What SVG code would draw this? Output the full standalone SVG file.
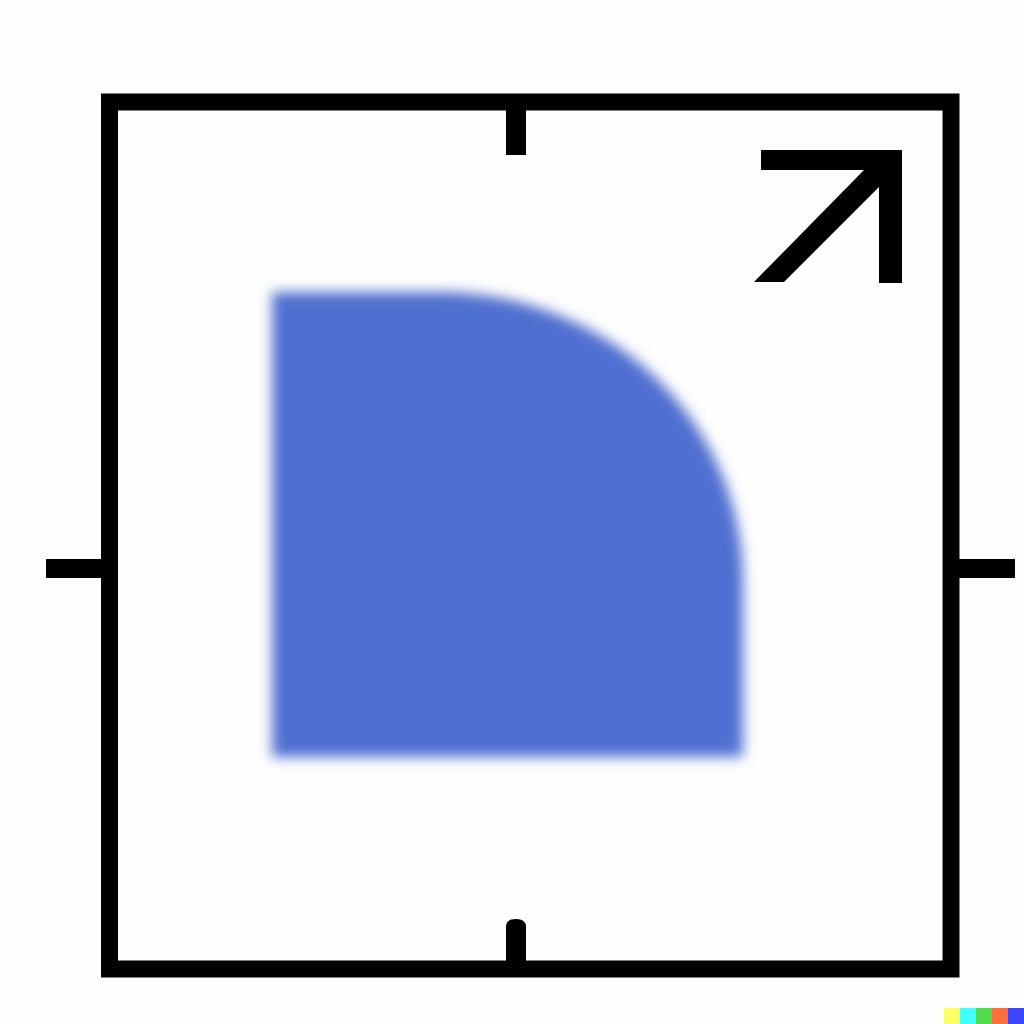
<svg xmlns="http://www.w3.org/2000/svg" width="1024" height="1024" viewBox="0 0 1024 1024">
  <defs>
    <filter id="blur" x="-10%" y="-10%" width="120%" height="120%">
      <feGaussianBlur stdDeviation="6.5"/>
    </filter>
    <style>
      .ink { fill: #000; }
      .frame { fill: none; stroke: #000; stroke-width: 17; }
    </style>
  </defs>
  <rect width="1024" height="1024" fill="#fefefe"/>
  <g id="frame">
    <rect class="frame" x="109.5" y="102" width="841.5" height="867"/>
    <rect class="ink" x="506" y="106" width="20" height="49"/>
    <path class="ink" d="M506,965 V927 Q506,919 516,919 Q526,919 526,927 V965 Z"/>
    <rect class="ink" x="46" y="559" width="66" height="19"/>
    <rect class="ink" x="948" y="559" width="67" height="19"/>
  </g>
  <g id="shape">
    <path d="M272,292 H440 A303 288 0 0 1 743,580 V757 H272 Z" fill="#506fd0" filter="url(#blur)"/>
  </g>
  <g id="arrow">
    <polygon class="ink" points="761,150 902,150 902,283 879,283 879,187 784,282 754,282 864,170 761,170"/>
  </g>
  <g id="strip">
    <rect x="944" y="1008" width="16" height="16" fill="#ffff66"/>
    <rect x="960" y="1008" width="16" height="16" fill="#42ffff"/>
    <rect x="976" y="1008" width="16" height="16" fill="#51da4c"/>
    <rect x="992" y="1008" width="16" height="16" fill="#ff6e3c"/>
    <rect x="1008" y="1008" width="16" height="16" fill="#3c46ff"/>
  </g>
</svg>
